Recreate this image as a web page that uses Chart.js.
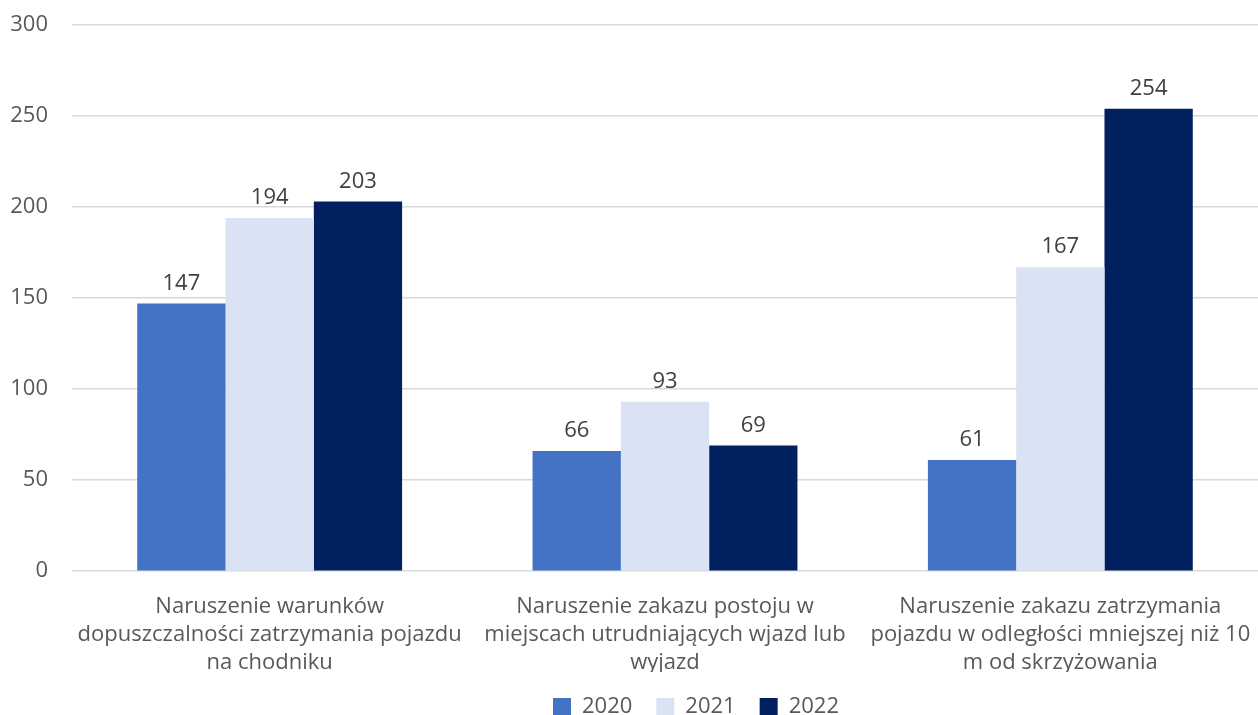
<!DOCTYPE html>
<html>
<head>
<meta charset="utf-8">
<script src="https://cdn.jsdelivr.net/npm/chart.js@4/dist/chart.umd.min.js"></script>
<style>
  html, body { margin: 0; padding: 0; background: #fff; }
  #wrap { width: 1258px; height: 715px; }
</style>
</head>
<body>
<div id="wrap"><canvas id="chart"></canvas></div>
<script>
const categories = [
  ['Naruszenie warunków', 'dopuszczalności zatrzymania pojazdu', 'na chodniku'],
  ['Naruszenie zakazu postoju w', 'miejscach utrudniających wjazd lub', 'wyjazd'],
  ['Naruszenie zakazu zatrzymania', 'pojazdu w odległości mniejszej niż 10', 'm od skrzyżowania']
];
const years = ['2020', '2021', '2022'];
const values2020 = [147, 66, 61];
const values2021 = [194, 93, 167];
const values2022 = [203, 69, 254];
const yTicks = [0, 50, 100, 150, 200, 250, 300];

const fontFamily = "'Open Sans', 'Liberation Sans', sans-serif";

// values above each bar
const barLabels = {
  id: 'barLabels',
  afterDatasetsDraw(chart) {
    const ctx = chart.ctx;
    ctx.save();
    ctx.font = '22px ' + fontFamily;
    ctx.fillStyle = '#404040';
    ctx.textAlign = 'center';
    ctx.textBaseline = 'bottom';
    chart.data.datasets.forEach((ds, i) => {
      chart.getDatasetMeta(i).data.forEach((bar, j) => {
        ctx.fillText(ds.data[j], bar.x, bar.y - 9);
      });
    });
    ctx.restore();
  }
};

// legend sits a bit right of centre in the original
const legendShift = {
  id: 'legendShift',
  afterLayout(chart) { chart.legend.left = 134; }
};

new Chart(document.getElementById('chart'), {
  type: 'bar',
  data: {
    labels: categories,
    datasets: [
      { label: years[0], data: values2020, backgroundColor: '#4472C4' },
      { label: years[1], data: values2021, backgroundColor: '#DAE3F3' },
      { label: years[2], data: values2022, backgroundColor: '#002060' }
    ]
  },
  options: {
    responsive: true,
    maintainAspectRatio: false,
    animation: false,
    datasets: { bar: { categoryPercentage: 0.67, barPercentage: 1 } },
    layout: { padding: { top: 25, left: 0, right: 0, bottom: -13 } },
    scales: {
      x: {
        grid: { display: false },
        border: { display: false },
        ticks: { color: '#595959', font: { size: 22, family: fontFamily, lineHeight: 1.27 }, padding: 14, maxRotation: 0, autoSkip: false },
        afterFit(axis) { axis.paddingLeft = 0; axis.paddingRight = 0; axis.height -= 19; }
      },
      y: {
        min: 0,
        max: 300,
        afterBuildTicks(axis) { axis.ticks = yTicks.map(v => ({ value: v })); },
        grid: { color: '#d9d9d9', lineWidth: 1.5, drawTicks: false },
        border: { display: false },
        ticks: { color: '#595959', font: { size: 22, family: fontFamily }, padding: 24 },
        afterFit(axis) { axis.width = 72; axis.paddingTop = 0; axis.paddingBottom = 0; }
      }
    },
    plugins: {
      legend: {
        position: 'bottom',
        labels: { color: '#595959', font: { size: 22, family: fontFamily, lineHeight: 1 }, boxWidth: 18, boxHeight: 18, padding: 24 }
      },
      tooltip: { enabled: false }
    }
  },
  plugins: [barLabels, legendShift]
});
</script>
</body>
</html>
